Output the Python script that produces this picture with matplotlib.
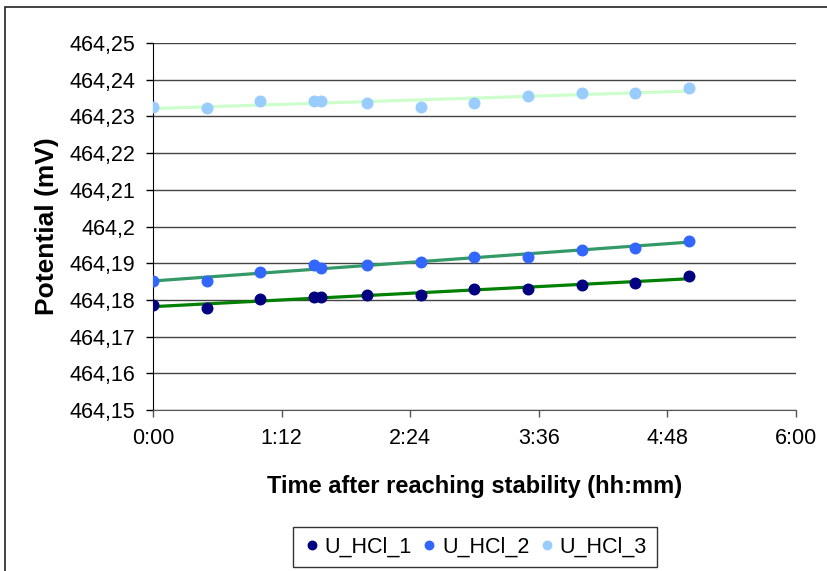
import numpy as np
import matplotlib
matplotlib.use("Agg")
import matplotlib.pyplot as plt
from matplotlib.patches import Rectangle
from matplotlib.ticker import FuncFormatter

plt.rcParams["font.family"] = ["Liberation Sans", "DejaVu Sans"]

# time after reaching stability, minutes
time_min = [0, 30, 60, 90, 94, 120, 150, 180, 210, 240, 270, 300]

# potential (mV)
u_hcl_1 = [464.1787, 464.1779, 464.1803, 464.1807, 464.1807, 464.1812,
           464.1812, 464.1831, 464.1831, 464.1841, 464.1846, 464.1865]
u_hcl_2 = [464.1851, 464.1851, 464.1875, 464.1895, 464.1888, 464.1894,
           464.1904, 464.1918, 464.1918, 464.1937, 464.1942, 464.1961]
u_hcl_3 = [464.2326, 464.2322, 464.2341, 464.2341, 464.2341, 464.2336,
           464.2326, 464.2336, 464.2356, 464.2365, 464.2365, 464.2378]

series = [
    ("U_HCl_1", u_hcl_1, "#000080", "#008000"),
    ("U_HCl_2", u_hcl_2, "#3366FF", "#339966"),
    ("U_HCl_3", u_hcl_3, "#99CCFF", "#CCFFCC"),
]

t = np.array(time_min) / 60.0  # hours

fig = plt.figure(figsize=(8.28, 5.71), dpi=100)
ax = fig.add_axes([153 / 828, 1 - 410 / 571, 643 / 828, 367 / 571])

# outer chart border
fig.patches.append(Rectangle((5 / 828, -0.1), 1.2, 1 - 7 / 571 + 0.1,
                             transform=fig.transFigure, fill=False,
                             edgecolor="#222222", linewidth=1.2))

# linear trendlines (Excel style), then the markers
for name, vals, mcol, tcol in series:
    k, b = np.polyfit(t, vals, 1)
    xs = np.array([t[0], t[-1]])
    ax.plot(xs, k * xs + b, color=tcol, linewidth=2.3, zorder=2)
for name, vals, mcol, tcol in series:
    ax.plot(t, vals, linestyle="none", marker="o", markersize=7.6,
            color=mcol, label=name, zorder=3)

ax.set_xlim(0, 6)
ax.set_ylim(464.15, 464.25)
ax.set_xticks([0, 1.2, 2.4, 3.6, 4.8, 6.0])
ax.set_yticks(np.round(np.arange(464.15, 464.2501, 0.01), 2))

def hhmm(x, pos):
    m = int(round(x * 60))
    return f"{m // 60}:{m % 60:02d}"

def comma(y, pos):
    s = f"{y:.2f}".rstrip("0").rstrip(".")
    return s.replace(".", ",")

ax.xaxis.set_major_formatter(FuncFormatter(hhmm))
ax.yaxis.set_major_formatter(FuncFormatter(comma))

ax.grid(axis="y", color="#444444", linewidth=1.0)
ax.set_axisbelow(True)
for side in ["top", "right"]:
    ax.spines[side].set_visible(False)
ax.spines["left"].set_color("black")
ax.spines["bottom"].set_color("#555555")
ax.tick_params(axis="y", direction="out", length=5, width=1, color="black",
               labelsize=15.5, pad=8)
ax.tick_params(axis="x", direction="out", length=5, width=1, color="#555555",
               labelsize=15.5, pad=8)

ax.set_xlabel("Time after reaching stability (hh:mm)", fontsize=17,
              fontweight="bold", labelpad=19)
ax.set_ylabel("Potential (mV)", fontsize=19, fontweight="bold", labelpad=7)

leg = fig.legend(loc="center", bbox_to_anchor=(475 / 828, 1 - 547 / 571),
                 ncol=3, fontsize=15.5, frameon=True, fancybox=False,
                 handletextpad=0.2, columnspacing=0.4, handlelength=0.8,
                 markerscale=0.8, borderpad=0.45)
leg.get_frame().set_edgecolor("black")
leg.get_frame().set_linewidth(1.0)

fig.savefig("out.png", dpi=100)
